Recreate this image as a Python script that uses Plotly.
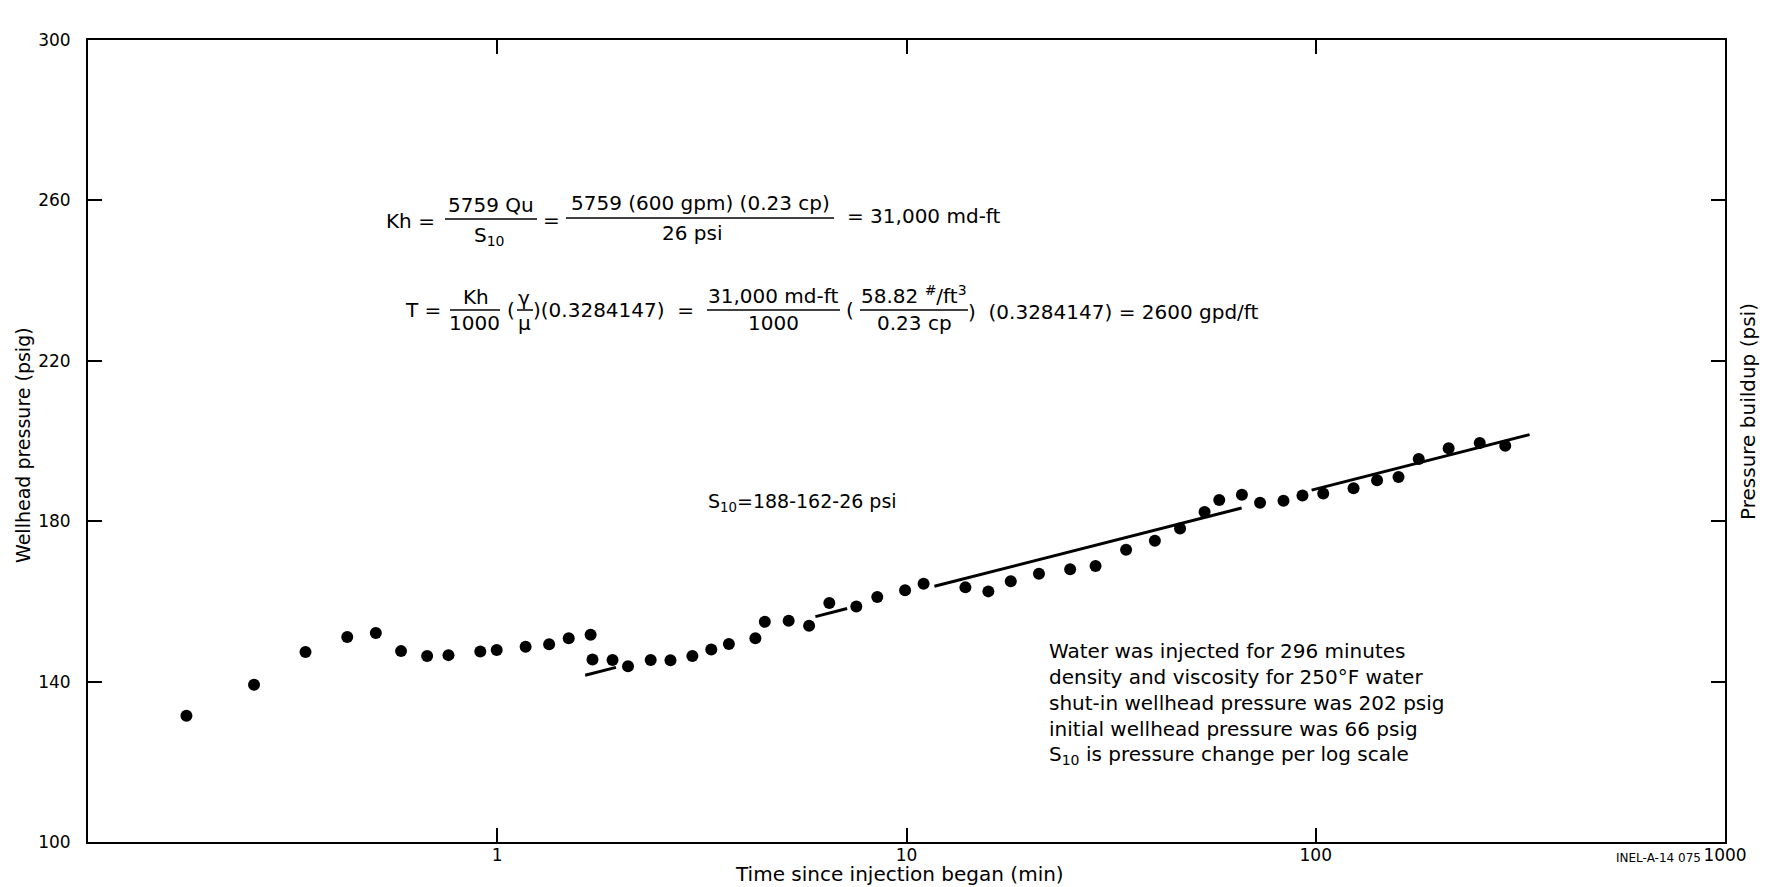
import math
import plotly.graph_objects as go

# ---------------- data ----------------
time_min = [0.174, 0.2545, 0.340, 0.430, 0.505, 0.582, 0.674, 0.760, 0.909, 0.997,
            1.173, 1.339, 1.495, 1.691, 1.709, 1.913, 2.087, 2.371, 2.650, 2.998,
            3.334, 3.681, 4.273, 4.506, 5.153, 5.781, 6.477, 7.54, 8.484, 9.92,
            11.01, 13.93, 15.85, 17.98, 21.07, 25.11, 28.97, 34.40, 40.45, 46.6,
            53.5, 58.1, 66.0, 73.1, 83.4, 92.8, 104.3, 123.7, 141.2, 159.3,
            178.5, 211.2, 251.6, 290.4]
pressure_psig = [131.5, 139.2, 147.4, 151.1, 152.1, 147.6, 146.4, 146.6, 147.5, 147.9,
                 148.7, 149.3, 150.8, 151.7, 145.5, 145.4, 143.8, 145.4, 145.3, 146.4,
                 148.0, 149.4, 150.8, 154.9, 155.2, 153.9, 159.6, 158.7, 161.1, 162.8,
                 164.4, 163.5, 162.5, 165.0, 166.9, 168.0, 168.8, 172.9, 175.1, 178.2,
                 182.3, 185.3, 186.6, 184.6, 185.1, 186.4, 186.9, 188.2, 190.2, 191.0,
                 195.5, 198.2, 199.5, 198.8]

# semilog straight line: 162 psig at 10 min, S10 = 26 psi per log cycle
fit_p_at_10 = 162.0
fit_s10 = 26.0
fit_seg_start = [1.64, 5.99, 11.7, 97.7]
fit_seg_end = [1.95, 7.16, 65.9, 333.0]

x_tickvals = [1, 10, 100, 1000]
x_ticktext = ["1", "10", "100", "1000"]
y_tickvals = [100, 140, 180, 220, 260, 300]

notes = ["Water was injected for 296 minutes",
         "density and viscosity for 250\u00b0F water",
         "shut-in wellhead pressure was 202 psig",
         "initial wellhead pressure was 66 psig",
         "S<sub>10</sub> is pressure change per log scale"]

# ---------------- figure ----------------
W, H = 1765, 887
# plot area in page pixels
L, R, T, B = 88, 1725, 40, 842
FONT = "DejaVu Sans"


def pxx(x):
    return (x - L) / (R - L)


def pxy(y):
    return (B - y) / (B - T)


fig = go.Figure()

for a, b in zip(fit_seg_start, fit_seg_end):
    xs = [a, b]
    ys = [fit_p_at_10 + fit_s10 * math.log10(v / 10.0) for v in xs]
    fig.add_trace(go.Scatter(x=xs, y=ys, mode="lines",
                             line=dict(color="black", width=3),
                             hoverinfo="skip", showlegend=False))

fig.add_trace(go.Scatter(x=time_min, y=pressure_psig, mode="markers",
                         marker=dict(color="black", size=12),
                         showlegend=False))

annotations = []
shapes = []


def text(x, y, s, size=20, xanchor="center", angle=0):
    annotations.append(dict(x=pxx(x), y=pxy(y), xref="paper", yref="paper",
                            text=s, showarrow=False, xanchor=xanchor,
                            yanchor="middle", textangle=angle,
                            font=dict(family=FONT, size=size, color="black")))


def bar(x0, x1, y):
    shapes.append(dict(type="line", xref="paper", yref="paper",
                       x0=pxx(x0), x1=pxx(x1), y0=pxy(y), y1=pxy(y),
                       line=dict(color="black", width=1.5)))


# Equation 1
text(410, 221, "Kh =")
text(491, 205, "5759 Qu")
bar(445, 537, 219)
text(489, 236, "S<sub>10</sub>")
text(551, 220, "=")
text(700, 203, "5759 (600 gpm) (0.23 cp)")
bar(566, 834, 218)
text(692, 233, "26 psi")
text(845, 216, "= 31,000 md-ft", xanchor="left")

# Equation 2
text(423, 310, "T =")
text(476, 297, "Kh")
bar(450, 500, 310)
text(474, 323, "1000")
text(511, 310, "(")
text(524, 298, "\u03b3")
bar(517, 533, 310)
text(524, 323, "\u03bc")
text(531, 310, ")(0.3284147)  =", xanchor="left")
text(773, 296, "31,000 md-ft")
bar(707, 840, 310)
text(773, 323, "1000")
text(850, 310, "(")
text(914, 295, "58.82 <sup>#</sup>/ft<sup>3</sup>")
bar(860, 968, 310)
text(914, 323, "0.23 cp")
text(966, 312, ")  (0.3284147) = 2600 gpd/ft", xanchor="left")

# S10 note
text(706, 502, "S<sub>10</sub>=188-162-26 psi", xanchor="left", size=19)

# Notes block
note_y = [651, 677, 703, 729, 755]
for yy, s in zip(note_y, notes):
    text(1047, yy, s, xanchor="left", size=20)

# Axis titles and figure code
text(899, 874, "Time since injection began (min)", size=20)
text(23, 445, "Wellhead pressure (psig)", size=19, angle=-90)
text(1748, 412, "Pressure buildup (psi)", size=20, angle=-90)
text(1703, 858, "INEL-A-14 075", size=12, xanchor="right")

fig.update_layout(
    width=W, height=H,
    margin=dict(l=L, r=W - R, t=T, b=H - B),
    paper_bgcolor="white", plot_bgcolor="white",
    annotations=annotations, shapes=shapes,
    font=dict(family=FONT, color="black"),
    xaxis=dict(type="log", range=[-1, 3], tickvals=x_tickvals, ticktext=x_ticktext,
               showgrid=False, zeroline=False, showline=True, linecolor="black",
               linewidth=2, mirror="ticks", ticks="inside", ticklen=14,
               tickwidth=2, tickcolor="black", ticklabelstandoff=-3,
               tickfont=dict(family=FONT, size=17, color="black")),
    yaxis=dict(range=[100, 300], tickvals=y_tickvals,
               showgrid=False, zeroline=False, showline=True, linecolor="black",
               linewidth=2, mirror="ticks", ticks="inside", ticklen=14,
               tickwidth=2, tickcolor="black", ticklabelstandoff=12,
               tickfont=dict(family=FONT, size=17, color="black")),
)

fig.write_html(
    "out.html",
    config={"displayModeBar": False},
    post_script="document.body.style.margin='0px';"
                "document.body.style.overflow='hidden';",
)
